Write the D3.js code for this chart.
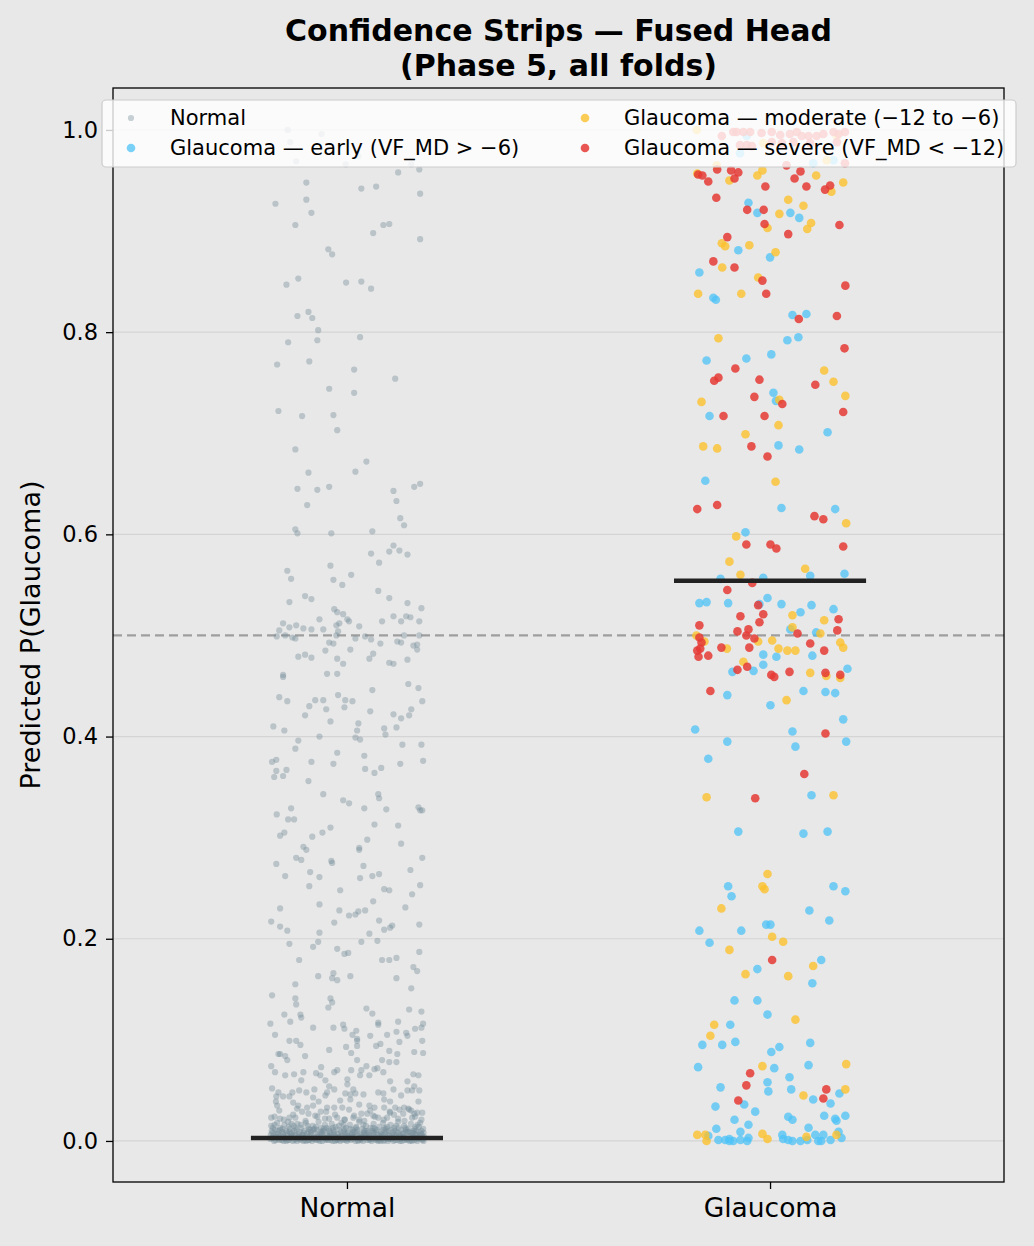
<!DOCTYPE html>
<html>
<head>
<meta charset="utf-8">
<script src="https://cdn.jsdelivr.net/npm/d3@7"></script>
<style>
  body { margin: 0; background: #e8e8e8; }
  svg { display: block; font-family: "DejaVu Sans", sans-serif; }
</style>
</head>
<body>
<div id="chart"></div>
<script>
// Confidence strips, fused head (phase 5)

var categories = ["Normal", "Glaucoma"];
var yTicks = [0, 0.2, 0.4, 0.6, 0.8, 1.0];
var medians = [0.003, 0.554];
var threshold = 0.5;
var legendLabels = ["Normal", "Glaucoma \u2014 early (VF_MD > \u22126)",
    "Glaucoma \u2014 moderate (\u221212 to \u22126)", "Glaucoma \u2014 severe (VF_MD < \u221212)"];

// [jitter, predicted p]
var normalPts = [
 [-0.140,1.000],[-0.134,0.988],[-0.060,0.996],[-0.120,0.969],[-0.003,0.966],[0.027,0.974],[0.152,0.966],[0.171,0.961],[0.121,0.958],
 [-0.096,0.948],[-0.169,0.927],[-0.096,0.931],[-0.084,0.918],[-0.122,0.906],[0.034,0.942],[0.069,0.944],[0.173,0.937],[0.086,0.906],
 [0.100,0.907],[0.062,0.898],[0.173,0.892],[-0.044,0.882],[-0.035,0.877],[-0.115,0.853],[-0.143,0.847],[-0.002,0.849],[0.034,0.850],
 [0.057,0.843],[-0.091,0.820],[-0.117,0.816],[-0.082,0.814],[-0.068,0.802],[-0.139,0.790],[-0.070,0.792],[0.031,0.795],[-0.165,0.768],
 [-0.089,0.771],[0.017,0.763],[0.114,0.754],[-0.042,0.744],[0.017,0.740],[-0.162,0.722],[-0.106,0.717],[-0.032,0.718],[-0.023,0.703],
 [-0.122,0.684],[-0.091,0.661],[0.020,0.662],[0.046,0.672],[-0.117,0.645],[-0.070,0.644],[-0.042,0.647],[-0.094,0.629],[0.110,0.643],
 [0.117,0.633],[0.159,0.647],[0.173,0.650],[0.126,0.616],[0.135,0.609],[-0.122,0.605],[-0.117,0.601],[-0.037,0.601],[0.060,0.603],
 [0.110,0.589],[0.100,0.583],[0.124,0.584],[0.143,0.580],[0.057,0.581],[0.076,0.572],[-0.039,0.569],[0.010,0.560],[-0.032,0.555],
 [-0.011,0.550],[-0.141,0.564],[-0.132,0.556],[0.074,0.544],[0.100,0.537],[-0.099,0.539],[-0.084,0.536],[-0.136,0.533],[0.143,0.532],
 [0.176,0.527],[-0.030,0.526],[-0.023,0.523],[-0.009,0.521],[-0.018,0.512],[0.001,0.516],[0.005,0.514],[-0.065,0.516],[-0.151,0.512],
 [-0.120,0.510],[-0.136,0.508],[-0.160,0.505],[-0.103,0.507],[-0.084,0.506],[-0.056,0.506],[-0.025,0.510],[0.029,0.509],[0.083,0.514],
 [0.110,0.519],[0.128,0.514],[0.140,0.519],[0.150,0.518],[0.171,0.514],[-0.166,0.499],[-0.146,0.500],[-0.129,0.498],[-0.122,0.497],
 [-0.021,0.504],[-0.025,0.500],[0.020,0.497],[0.043,0.499],[0.057,0.496],[0.135,0.500],[0.171,0.500],[-0.042,0.493],[-0.032,0.492],
 [0.119,0.494],[0.128,0.493],[0.079,0.492],[0.157,0.490],[0.166,0.491],[0.166,0.486],[-0.051,0.485],[0.008,0.486],[-0.115,0.479],
 [-0.099,0.481],[-0.084,0.478],[-0.023,0.477],[-0.009,0.472],[0.053,0.477],[0.062,0.482],[0.100,0.473],[0.110,0.472],[0.143,0.476],
 [-0.151,0.461],[-0.151,0.459],[-0.047,0.462],[-0.023,0.462],[-0.160,0.439],[-0.141,0.435],[-0.075,0.436],[-0.056,0.436],[-0.089,0.430],
 [-0.049,0.427],[-0.021,0.441],[-0.004,0.436],[-0.006,0.429],[0.013,0.435],[0.060,0.446],[0.055,0.425],[0.145,0.452],[0.169,0.448],
 [0.178,0.435],[0.152,0.427],[0.147,0.421],[0.110,0.422],[0.128,0.418],[-0.099,0.421],[-0.039,0.415],[0.027,0.413],[0.024,0.406],
 [-0.174,0.410],[-0.148,0.406],[0.117,0.409],[0.088,0.408],[0.091,0.402],[-0.115,0.396],[-0.065,0.400],[0.020,0.399],[0.031,0.397],
 [0.131,0.392],[0.176,0.392],[-0.122,0.388],
 [-0.023,0.384],[0.041,0.381],[-0.177,0.375],[-0.167,0.377],[-0.084,0.375],[-0.032,0.373],[0.043,0.368],[0.065,0.364],[0.081,0.369],
 [0.126,0.373],[0.180,0.376],[-0.167,0.366],[-0.143,0.367],[-0.172,0.360],[-0.151,0.361],[-0.091,0.356],[-0.056,0.343],[-0.009,0.337],
 [0.005,0.334],[0.041,0.329],[0.074,0.343],[0.076,0.339],[0.093,0.328],[0.169,0.330],[0.173,0.327],[0.178,0.327],[-0.166,0.323],
 [-0.132,0.329],[-0.139,0.318],[-0.125,0.318],[0.065,0.313],[0.121,0.312],[-0.158,0.302],[-0.148,0.305],[-0.082,0.301],[-0.058,0.305],
 [-0.039,0.310],[0.048,0.298],[0.128,0.294],[-0.103,0.291],[-0.096,0.288],[0.029,0.290],[0.029,0.288],[-0.120,0.280],[-0.108,0.278],
 [-0.037,0.277],[-0.035,0.275],[0.178,0.280],[-0.167,0.274],[0.039,0.272],[-0.146,0.262],[-0.087,0.266],[-0.065,0.261],[0.031,0.260],
 [0.060,0.262],[0.076,0.264],[0.150,0.268],[-0.089,0.252],[-0.016,0.248],[0.088,0.249],[0.100,0.248],[0.173,0.253],[0.154,0.244],
 [0.062,0.237],[-0.065,0.234],[0.138,0.231],[-0.158,0.230],[-0.018,0.228],[0.005,0.223],[0.020,0.224],[0.027,0.227],[0.043,0.228],
 [-0.179,0.217],[-0.030,0.216],[0.076,0.218],[-0.158,0.212],[-0.141,0.208],[0.088,0.209],[0.102,0.211],[0.107,0.213],[0.171,0.214],
 [-0.065,0.206],[0.053,0.205],[-0.136,0.195],[-0.068,0.197],[-0.080,0.192],[0.034,0.197],[0.072,0.198],[-0.023,0.190],[-0.006,0.185],
 [0.003,0.186],[0.171,0.187],[-0.113,0.179],[0.083,0.179],[0.100,0.179],[0.117,0.181],[0.157,0.172],[0.166,0.168],[-0.068,0.163],
 [-0.032,0.166],[-0.035,0.161],[-0.023,0.159],[0.008,0.163],[0.117,0.161],[0.152,0.151],[-0.122,0.155],[-0.177,0.144],[-0.122,0.141],
 [-0.120,0.135],[-0.039,0.141],[-0.035,0.137],[-0.044,0.132],[0.046,0.131],[0.060,0.126],[0.147,0.130],[0.176,0.128],[-0.148,0.125],
 [-0.110,0.125],[-0.108,0.122],[-0.134,0.118],[-0.181,0.116],[-0.009,0.115],[-0.006,0.111],[0.074,0.117],[0.074,0.115],[0.121,0.118],
 [0.180,0.116],[0.176,0.112],[0.161,0.111],[-0.080,0.112],[-0.032,0.112],[-0.170,0.105],[0.013,0.105],[0.022,0.109],[0.024,0.101],
 [0.055,0.104],[0.095,0.105],[0.117,0.108],[0.140,0.107],[0.143,0.104],
 [-0.136,0.099],[-0.120,0.099],[-0.110,0.095],[-0.099,0.084],[-0.042,0.090],[-0.002,0.093],[0.010,0.087],[0.024,0.099],[0.024,0.094],
 [0.069,0.094],[0.079,0.096],[0.100,0.089],[0.124,0.098],[0.159,0.088],[0.178,0.099],[0.180,0.087],[-0.162,0.086],[-0.158,0.086],
 [-0.146,0.084],[-0.141,0.080],[-0.179,0.074],[-0.170,0.068],[-0.146,0.065],[-0.125,0.066],[-0.103,0.068],[-0.073,0.067],[-0.063,0.065],
 [-0.061,0.073],[-0.051,0.060],[-0.030,0.068],[-0.023,0.070],[0.001,0.061],[0.010,0.070],[0.024,0.080],[0.031,0.065],[0.034,0.070],
 [0.046,0.074],[0.053,0.065],[0.065,0.071],[0.072,0.072],[0.083,0.080],[0.086,0.068],[0.100,0.078],[0.117,0.078],[0.119,0.086],
 [0.143,0.059],[0.157,0.066],[0.169,0.065],[-0.177,0.052],[-0.167,0.044],[-0.162,0.048],[-0.151,0.044],[-0.136,0.044],[-0.129,0.048],
 [-0.113,0.050],[-0.108,0.060],[-0.096,0.048],[-0.077,0.051],[-0.080,0.043],[-0.067,0.039],[-0.051,0.045],[-0.047,0.048],[-0.042,0.054],
 [-0.030,0.051],[-0.016,0.040],[-0.004,0.047],[0.001,0.056],[0.008,0.046],[0.015,0.051],[0.020,0.047],[0.039,0.046],[0.029,0.036],
 [0.053,0.035],[0.065,0.033],[0.074,0.048],[0.086,0.047],[0.088,0.041],[0.102,0.059],[0.102,0.039],[0.110,0.051],[0.128,0.045],
 [0.143,0.050],[0.154,0.050],[0.159,0.054],[0.171,0.050],[0.169,0.039],[-0.168,0.039],[-0.165,0.035],[-0.127,0.038],[-0.115,0.035],
 [-0.094,0.033],[-0.080,0.035],[-0.047,0.033],[-0.030,0.033],[-0.011,0.033],[0.008,0.041],[0.034,0.027],[0.048,0.027],[0.062,0.025],
 [0.088,0.033],[0.102,0.028],[0.114,0.033],[0.124,0.031],[0.135,0.033],[0.145,0.032],[0.152,0.030],[0.166,0.028],[0.178,0.028],
 [-0.179,0.023],[-0.158,0.022],[-0.136,0.023],[-0.122,0.023],[-0.106,0.029],[-0.091,0.027],[-0.070,0.024],[-0.049,0.029],[-0.042,0.022],
 [-0.023,0.023],[-0.005,0.021],[0.015,0.023],[0.029,0.021],[0.074,0.023],[0.095,0.023],[0.121,0.022],[0.133,0.027],[0.154,0.023],
 [0.159,0.027],
 [-0.171,0.024],[-0.149,0.021],[-0.127,0.026],[-0.098,0.020],[-0.075,0.025],[-0.052,0.022],[-0.028,0.026],[-0.006,0.021],[0.017,0.025],
 [0.041,0.020],[0.066,0.024],[0.087,0.021],[0.111,0.026],[0.136,0.020],[0.161,0.024],[0.176,0.021],[-0.160,0.030],[-0.118,0.032],
 [-0.062,0.029],[0.005,0.031],[0.055,0.030],[0.101,0.029],[0.147,0.031],
 [-0.181,0.002],[-0.176,0.008],[-0.179,0.015],[-0.172,0.000],[-0.170,0.011],[-0.168,0.004],[-0.165,0.018],[-0.163,0.007],[-0.160,0.001],
 [-0.158,0.013],[-0.155,0.005],[-0.153,0.009],[-0.150,0.000],[-0.148,0.016],[-0.146,0.003],[-0.144,0.010],[-0.141,0.006],[-0.139,0.019],
 [-0.137,0.001],[-0.135,0.012],[-0.132,0.004],[-0.130,0.008],[-0.128,0.000],[-0.126,0.015],[-0.123,0.006],[-0.121,0.002],[-0.119,0.011],
 [-0.117,0.017],[-0.115,0.004],[-0.112,0.009],[-0.110,0.001],[-0.108,0.013],[-0.106,0.006],[-0.103,0.000],[-0.101,0.010],[-0.099,0.003],
 [-0.097,0.018],[-0.094,0.007],[-0.092,0.001],[-0.090,0.012],[-0.088,0.005],[-0.085,0.009],[-0.083,0.000],[-0.081,0.015],[-0.079,0.003],
 [-0.076,0.008],[-0.074,0.001],[-0.072,0.011],[-0.070,0.005],[-0.067,0.019],[-0.065,0.002],[-0.063,0.007],[-0.061,0.013],[-0.058,0.000],
 [-0.056,0.004],[-0.054,0.010],[-0.052,0.016],[-0.049,0.002],[-0.047,0.006],[-0.045,0.001],[-0.043,0.012],[-0.040,0.008],[-0.038,0.003],
 [-0.036,0.017],[-0.034,0.000],[-0.031,0.009],[-0.029,0.005],[-0.027,0.014],[-0.025,0.001],[-0.022,0.007],[-0.020,0.003],[-0.018,0.011],
 [-0.016,0.000],[-0.013,0.018],[-0.011,0.006],[-0.009,0.002],[-0.007,0.010],[-0.004,0.004],[-0.002,0.013],[0.000,0.000],[0.002,0.008],
 [0.004,0.003],[0.007,0.016],[0.009,0.001],[0.011,0.006],[0.013,0.011],[0.016,0.002],[0.018,0.009],[0.020,0.000],[0.022,0.014],
 [0.025,0.005],[0.027,0.001],[0.029,0.019],[0.031,0.007],[0.034,0.003],[0.036,0.012],[0.038,0.000],[0.040,0.008],[0.043,0.004],
 [0.045,0.015],[0.047,0.001],[0.049,0.010],[0.052,0.006],[0.054,0.002],[0.056,0.013],[0.058,0.000],[0.061,0.008],[0.063,0.017],
 [0.065,0.004],[0.067,0.001],[0.070,0.011],[0.072,0.006],[0.074,0.002],[0.076,0.014],[0.079,0.000],[0.081,0.009],[0.083,0.004],
 [0.085,0.018],[0.088,0.001],[0.090,0.007],[0.092,0.012],[0.094,0.003],[0.097,0.000],[0.099,0.010],[0.101,0.005],[0.103,0.016],
 [0.106,0.002],[0.108,0.008],[0.110,0.000],[0.112,0.013],[0.115,0.004],[0.117,0.009],[0.119,0.001],[0.121,0.019],[0.124,0.006],
 [0.126,0.002],[0.128,0.011],[0.130,0.000],[0.133,0.007],[0.135,0.015],[0.137,0.003],[0.139,0.009],[0.142,0.001],[0.144,0.012],
 [0.146,0.005],[0.148,0.000],[0.151,0.017],[0.153,0.008],[0.155,0.003],[0.157,0.010],[0.160,0.001],[0.162,0.014],[0.164,0.006],
 [0.166,0.000],[0.169,0.009],[0.171,0.003],[0.173,0.018],[0.175,0.007],[0.178,0.001],[0.180,0.012],[0.182,0.004],
 [-0.174,0.005],[-0.162,0.002],[-0.151,0.007],[-0.143,0.000],[-0.134,0.003],[-0.125,0.010],[-0.113,0.002],[-0.104,0.006],[-0.096,0.000],
 [-0.086,0.003],[-0.077,0.012],[-0.068,0.004],[-0.059,0.008],[-0.050,0.001],[-0.041,0.004],[-0.032,0.011],[-0.023,0.002],[-0.014,0.005],
 [-0.005,0.008],[0.005,0.002],[0.014,0.004],[0.023,0.009],[0.033,0.001],[0.042,0.006],[0.051,0.003],[0.060,0.010],[0.069,0.002],
 [0.078,0.005],[0.087,0.000],[0.096,0.006],[0.105,0.011],[0.114,0.001],[0.123,0.004],[0.132,0.008],[0.141,0.002],[0.150,0.005],
 [0.159,0.012],[0.168,0.002],[0.177,0.006],
 [-0.178,0.010],[-0.169,0.001],[-0.157,0.011],[-0.147,0.002],[-0.138,0.014],[-0.129,0.005],[-0.118,0.000],[-0.109,0.016],[-0.100,0.001],
 [-0.091,0.009],[-0.082,0.002],[-0.073,0.014],[-0.064,0.000],[-0.055,0.012],[-0.046,0.003],[-0.037,0.006],[-0.028,0.000],[-0.019,0.015],
 [-0.010,0.001],[-0.001,0.007],[0.008,0.012],[0.017,0.004],[0.026,0.000],[0.035,0.006],[0.044,0.010],[0.053,0.001],[0.062,0.013],
 [0.071,0.003],[0.080,0.007],[0.089,0.013],[0.098,0.002],[0.107,0.005],[0.116,0.015],[0.125,0.000],[0.134,0.004],[0.143,0.009],
 [0.152,0.001],[0.161,0.007],[0.170,0.014],[0.179,0.002],
 [-0.175,0.013],[-0.166,0.007],[-0.154,0.001],[-0.142,0.008],[-0.131,0.017],[-0.120,0.005],[-0.107,0.003],[-0.093,0.015],[-0.084,0.006],
 [-0.069,0.001],[-0.057,0.010],[-0.044,0.005],[-0.033,0.013],[-0.021,0.001],[-0.008,0.016],[0.003,0.005],[0.015,0.009],[0.028,0.003],
 [0.039,0.016],[0.050,0.004],[0.064,0.008],[0.075,0.001],[0.086,0.011],[0.100,0.002],[0.111,0.006],[0.122,0.013],[0.136,0.001],
 [0.147,0.009],[0.158,0.004],[0.167,0.016],[0.181,0.008],
 [-0.180,0.006],[-0.171,0.016],[-0.161,0.004],[-0.152,0.012],[-0.140,0.001],[-0.133,0.007],[-0.122,0.013],[-0.111,0.003],[-0.102,0.008],
 [-0.089,0.001],[-0.080,0.011],[-0.071,0.003],[-0.060,0.006],[-0.048,0.013],[-0.039,0.001],[-0.030,0.007],[-0.017,0.004],[-0.006,0.012],
 [0.001,0.002],[0.012,0.007],[0.021,0.013],[0.032,0.002],[0.041,0.010],[0.055,0.005],[0.066,0.012],[0.073,0.000],[0.084,0.006],
 [0.095,0.014],[0.104,0.003],[0.113,0.010],[0.127,0.005],[0.138,0.013],[0.145,0.002],[0.156,0.008],[0.165,0.003],[0.176,0.010],
 [-0.177,0.003],[-0.164,0.010],[-0.149,0.004],[-0.136,0.009],[-0.124,0.001],[-0.114,0.007],[-0.098,0.004],[-0.087,0.011],[-0.075,0.002],
 [-0.062,0.009],[-0.053,0.003],[-0.042,0.010],[-0.026,0.004],[-0.015,0.009],[-0.003,0.001],[0.010,0.004],[0.024,0.011],[0.037,0.004],
 [0.048,0.008],[0.059,0.002],[0.068,0.009],[0.082,0.002],[0.093,0.009],[0.109,0.003],[0.120,0.008],[0.131,0.003],[0.140,0.011],
 [0.154,0.000],[0.163,0.010],[0.172,0.005],[0.181,0.000]
];

var earlyPts = [
 [-0.051,0.928],[-0.030,0.918],[0.048,0.918],[0.069,0.913],[-0.075,0.881],[0.000,0.874],[-0.167,0.859],[-0.134,0.834],[-0.128,0.832],
 [0.053,0.817],[0.086,0.818],[-0.055,0.994],[-0.071,0.977],[0.102,0.967],[0.150,0.970],
 [0.041,0.792],[0.067,0.795],[-0.150,0.772],[-0.056,0.774],[0.003,0.778],[0.008,0.740],[0.014,0.732],[-0.143,0.717],[0.136,0.701],
 [0.020,0.688],[0.069,0.684],[-0.153,0.653],[0.027,0.626],[0.154,0.625],[-0.058,0.602],
 [-0.117,0.556],[-0.016,0.557],[0.095,0.559],[0.176,0.561],[-0.167,0.532],[-0.150,0.533],[-0.099,0.532],[-0.006,0.537],[0.027,0.531],
 [0.098,0.530],[0.072,0.523],[0.150,0.526],[0.048,0.506],[0.109,0.503],[-0.016,0.481],[0.015,0.479],[0.100,0.480],[-0.016,0.471],
 [-0.039,0.465],[-0.089,0.464],[0.183,0.467],[-0.101,0.441],[0.079,0.445],[0.131,0.444],[0.154,0.443],[0.001,0.431],[0.173,0.417],
 [-0.177,0.407],[0.053,0.405],[-0.101,0.395],[0.060,0.390],[0.180,0.395],[-0.146,0.378],[-0.025,0.531],
 [0.098,0.342],[-0.075,0.306],[0.079,0.304],[0.136,0.306],[-0.099,0.252],[-0.091,0.242],[0.150,0.252],[0.178,0.247],[0.093,0.228],
 [0.140,0.218],[-0.167,0.208],[-0.068,0.208],[-0.009,0.214],[0.001,0.214],[-0.143,0.196],[-0.030,0.170],[0.121,0.179],[0.100,0.156],
 [-0.084,0.139],[-0.030,0.139],[-0.006,0.125],[-0.094,0.115],[-0.160,0.095],[-0.113,0.095],[-0.082,0.098],[0.095,0.097],[0.022,0.093],
 [0.003,0.088],[-0.170,0.073],[0.091,0.075],[0.010,0.072],[0.046,0.063],[-0.006,0.058],[-0.004,0.049],[-0.117,0.053],[0.050,0.051],
 [0.164,0.047],[0.102,0.041],[0.143,0.037],[-0.129,0.034],[-0.061,0.036],[-0.035,0.029],[0.128,0.025],[0.178,0.025],[-0.084,0.021],
 [0.043,0.024],[0.053,0.021],[0.154,0.022],[0.157,0.020],[-0.127,0.012],[-0.051,0.016],[0.091,0.013],[-0.070,0.009],[0.162,0.009],
 [-0.146,0.005],[0.107,0.006],[0.126,0.006],[-0.122,0.001],[-0.106,0.001],[-0.096,0.002],[-0.087,0.000],[-0.070,0.001],[-0.051,0.003],
 [-0.054,0.000],[0.029,0.006],[0.031,0.002],[0.043,0.001],[0.053,0.000],[0.072,0.000],[0.088,0.001],[0.114,0.000],[0.121,0.000],
 [0.143,0.001],[0.169,0.003],[-0.096,0.000]
];

var moderatePts = [
 [-0.172,0.957],[-0.096,0.950],[-0.030,0.955],[-0.018,0.960],[0.043,0.931],[0.079,0.925],[0.022,0.917],[-0.006,0.903],[0.097,0.908],
 [0.088,0.902],[-0.114,0.888],[-0.106,0.885],[-0.049,0.886],[0.013,0.879],[-0.113,0.864],[-0.028,0.854],[-0.170,0.838],[-0.068,0.838],
 [0.109,0.955],[0.145,0.939],[0.173,0.948],[-0.173,1.000],[-0.016,0.987],[0.134,0.970],[-0.126,0.965],[0.158,0.994],
 [-0.122,0.794],[0.128,0.762],[0.150,0.751],[0.178,0.737],[-0.162,0.731],[0.022,0.733],[0.020,0.708],[-0.058,0.699],[-0.158,0.687],
 [-0.125,0.685],[0.013,0.652],[0.180,0.611],[-0.080,0.598],
 [-0.096,0.573],[-0.070,0.560],[0.083,0.566],[0.053,0.520],[0.128,0.515],[0.053,0.508],[0.119,0.502],[-0.174,0.500],[-0.155,0.494],
 [-0.028,0.494],[0.005,0.495],[0.020,0.487],[0.041,0.485],[0.060,0.485],[-0.102,0.487],[0.166,0.493],[0.173,0.488],[-0.063,0.474],
 [0.095,0.463],[0.133,0.460],[0.166,0.458],[0.039,0.436],
 [-0.150,0.340],[0.150,0.342],[-0.006,0.264],[-0.018,0.252],[-0.013,0.249],[-0.115,0.230],[0.005,0.202],[0.031,0.197],[-0.096,0.189],
 [0.102,0.173],[-0.058,0.165],[0.043,0.163],[0.060,0.120],[-0.132,0.115],[-0.141,0.104],[-0.018,0.074],[0.180,0.076],[0.079,0.045],
 [0.178,0.051],[-0.172,0.006],[-0.153,0.006],[-0.150,0.000],[-0.018,0.007],[-0.006,0.002],[0.086,0.004],[0.157,0.006]
];

var severePts = [
 [-0.170,0.956],[-0.160,0.955],[-0.146,0.949],[-0.125,0.961],[-0.092,0.960],[-0.084,0.952],[-0.075,0.958],[-0.011,0.944],[-0.127,0.933],
 [-0.054,0.921],[-0.015,0.921],[-0.013,0.907],[0.043,0.897],[0.058,0.952],[0.072,0.959],[0.086,0.944],[0.130,0.941],[0.142,0.945],
 [0.164,0.906],[-0.101,0.894],[-0.134,0.870],[-0.084,0.864],[-0.018,0.851],[-0.009,0.838],[0.178,0.846],[0.068,0.813],[0.158,0.816],
 [-0.114,0.994],[-0.087,0.998],[-0.079,0.998],[-0.063,0.998],[-0.047,0.998],[-0.020,0.997],[0.004,0.998],[0.024,0.995],[0.047,0.996],
 [0.063,0.998],[0.075,0.994],[0.091,0.994],[0.110,0.994],[0.126,0.996],[0.150,0.998],[0.162,0.996],[0.177,0.998],[-0.071,0.985],
 [-0.055,0.985],[-0.043,0.984],[0.004,0.988],[0.028,0.987],[0.055,0.988],[0.095,0.987],[0.158,0.988],[0.039,0.965],[0.177,0.967],
 [0.176,0.784],[-0.082,0.764],[-0.122,0.755],[-0.132,0.752],[-0.025,0.753],[0.107,0.748],[-0.037,0.736],[0.029,0.729],[0.173,0.721],
 [-0.110,0.717],[-0.013,0.717],[-0.044,0.687],[-0.006,0.677],[-0.172,0.625],[-0.125,0.629],[0.105,0.618],[0.126,0.615],[-0.056,0.590],
 [0.001,0.590],[0.015,0.586],[0.173,0.588],
 [-0.042,0.552],[-0.101,0.545],[-0.028,0.530],[-0.016,0.521],[-0.070,0.519],[-0.025,0.513],[-0.167,0.510],[-0.077,0.504],[-0.051,0.506],
 [-0.056,0.500],[-0.037,0.497],[0.065,0.502],[0.162,0.516],[0.159,0.505],[-0.167,0.498],[-0.162,0.493],[-0.165,0.487],[-0.172,0.485],
 [-0.169,0.479],[-0.146,0.480],[-0.115,0.488],[-0.049,0.488],[0.095,0.492],[0.128,0.485],[-0.054,0.469],[-0.077,0.466],[0.003,0.461],
 [0.010,0.459],[0.046,0.464],[0.131,0.463],[0.166,0.461],[-0.141,0.445],[0.131,0.403],[0.081,0.363],
 [-0.035,0.339],[0.005,0.179],[-0.047,0.067],[-0.056,0.055],[-0.075,0.040],[0.133,0.051],[0.126,0.042]
];

var W = 1034, H = 1246;
var margin = {left: 113, right: 1004, top: 88, bottom: 1182};

var svg = d3.select("#chart").append("svg")
    .attr("width", W)
    .attr("height", H);

svg.append("rect")
    .attr("width", W).attr("height", H)
    .attr("fill", "#e8e8e8");

var x = d3.scaleLinear().domain([-0.553, 1.553]).range([margin.left, margin.right]);
var y = d3.scaleLinear().domain([-0.0406, 1.0415]).range([margin.bottom, margin.top]);

// grid
svg.append("g")
    .selectAll("line").data(yTicks).enter().append("line")
    .attr("x1", margin.left).attr("x2", margin.right)
    .attr("y1", function(d){return y(d)}).attr("y2", function(d){return y(d)})
    .attr("stroke", "#d4d4d4").attr("stroke-width", 1.2);

// threshold
svg.append("line")
    .attr("x1", margin.left).attr("x2", margin.right)
    .attr("y1", y(threshold)).attr("y2", y(threshold))
    .attr("stroke", "#9e9e9e").attr("stroke-width", 2.2)
    .attr("stroke-dasharray", "9,5");

function strip(pts, cat, color, r, op) {
    svg.append("g").selectAll("circle").data(pts).enter().append("circle")
	.attr("cx", function(d){return x(cat + d[0])})
	.attr("cy", function(d){return y(d[1])})
	.attr("r", r)
	.attr("fill", color)
	.attr("fill-opacity", op);
}

strip(normalPts, 0, "#78909c", 3.1, 0.42);
strip(earlyPts, 1, "#4fc3f7", 4.3, 0.75);
strip(moderatePts, 1, "#fbc02d", 4.3, 0.8);
strip(severePts, 1, "#e53935", 4.3, 0.85);

// medians
svg.append("g").selectAll("line").data(medians).enter().append("line")
    .attr("x1", function(d, i){return x(i - 0.227)})
    .attr("x2", function(d, i){return x(i + 0.227)})
    .attr("y1", function(d){return y(d)}).attr("y2", function(d){return y(d)})
    .attr("stroke", "#222").attr("stroke-width", 4.5);

// frame
svg.append("rect")
    .attr("x", margin.left).attr("y", margin.top)
    .attr("width", margin.right - margin.left)
    .attr("height", margin.bottom - margin.top)
    .attr("fill", "none").attr("stroke", "#000").attr("stroke-width", 1.3);

// axes
var yAxis = svg.append("g")
    .attr("transform", "translate(" + margin.left + ",0)")
    .call(d3.axisLeft(y).tickValues(yTicks).tickFormat(d3.format(".1f")).tickSize(7).tickPadding(8));
yAxis.select(".domain").remove();
yAxis.selectAll("text").attr("font-size", "22.5px").attr("fill", "#000").attr("font-family", "DejaVu Sans");
yAxis.selectAll("line").attr("stroke-width", 1.3);

var xAxis = svg.append("g")
    .attr("transform", "translate(0," + margin.bottom + ")")
    .call(d3.axisBottom(x).tickValues([0, 1]).tickFormat(function(d){return categories[d]}).tickSize(7).tickPadding(9));
xAxis.select(".domain").remove();
xAxis.selectAll("text").attr("font-size", "26.5px").attr("fill", "#000").attr("font-family", "DejaVu Sans");
xAxis.selectAll("line").attr("stroke-width", 1.3);

svg.append("text")
    .attr("transform", "translate(40," + ((margin.top + margin.bottom) / 2) + ") rotate(-90)")
    .attr("text-anchor", "middle")
    .attr("font-size", "27px")
    .text("Predicted P(Glaucoma)");

// title
var cx = (margin.left + margin.right) / 2;
svg.append("text").attr("x", cx).attr("y", 41)
    .attr("text-anchor", "middle").attr("font-size", "30px").attr("font-weight", "bold")
    .text("Confidence Strips \u2014 Fused Head");
svg.append("text").attr("x", cx).attr("y", 76)
    .attr("text-anchor", "middle").attr("font-size", "30px").attr("font-weight", "bold")
    .text("(Phase 5, all folds)");

// legend
var leg = svg.append("g");
leg.append("rect")
    .attr("x", 102).attr("y", 100).attr("width", 914).attr("height", 67)
    .attr("rx", 4)
    .attr("fill", "#fff").attr("fill-opacity", 0.8)
    .attr("stroke", "#cccccc").attr("stroke-width", 1.2);

var legColors = ["#78909c", "#4fc3f7", "#fbc02d", "#e53935"];
var legOps = [0.4, 0.75, 0.8, 0.85];
var legR = [3.1, 4.3, 4.3, 4.3];
var legPos = [[131, 118], [131, 148], [585, 118], [585, 148]];

legendLabels.forEach(function(lab, i) {
    leg.append("circle")
	.attr("cx", legPos[i][0]).attr("cy", legPos[i][1])
	.attr("r", legR[i]).attr("fill", legColors[i]).attr("fill-opacity", legOps[i]);
    leg.append("text")
	.attr("x", legPos[i][0] + 39).attr("y", legPos[i][1])
	.attr("dy", "0.35em")
	.attr("font-size", "21px")
	.text(lab);
});
</script>
</body>
</html>
